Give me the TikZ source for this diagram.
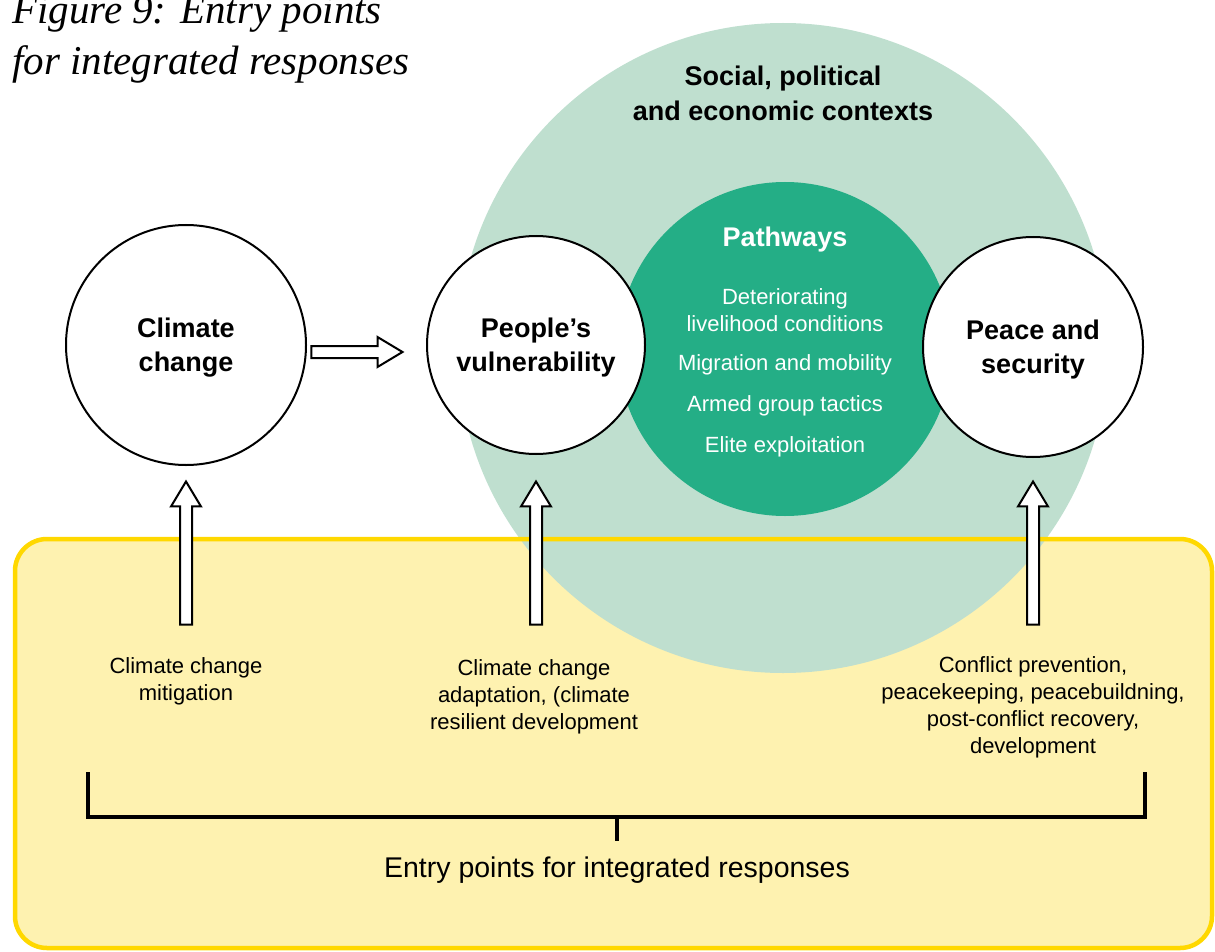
\documentclass[tikz,border=0pt]{standalone}
\usepackage{fontspec}
\setmainfont{Liberation Sans}
\newfontfamily\titlefont{Liberation Serif}
\usetikzlibrary{positioning,shapes.arrows}

\definecolor{ctxgreen}{HTML}{BFDFCF}
\definecolor{pathgreen}{HTML}{24AE86}
\definecolor{boxfill}{HTML}{FEF2B0}
\definecolor{boxline}{HTML}{FFD800}

\tikzset{
  bubble/.style={circle, draw=black, line width=2pt, fill=white, inner sep=0pt},
  bubble text/.style={align=center, inner sep=0pt,
    font=\bfseries\fontsize{27}{34}\selectfont},
  hollow arrow/.style={single arrow, draw=black, line width=2pt, fill=white,
    inner xsep=0pt, inner ysep=5pt, single arrow head extend=9pt,
    single arrow tip angle=62, single arrow head indent=0pt},
  note/.style={align=center, inner sep=0pt, font=\fontsize{22}{27}\selectfont},
  pathitem/.style={align=center, inner sep=0pt, text=white,
    font=\fontsize{22}{27}\selectfont},
  title text/.style={anchor=base west, inner sep=0pt,
    font=\titlefont\itshape\fontsize{41}{51}\selectfont}
}

\begin{document}
\begin{tikzpicture}[x=1pt,y=-1pt]
  \useasboundingbox (0,0) rectangle (1215,952);

  % entry points box (fill first, border later)
  \fill[boxfill, rounded corners=32pt] (15,539) rectangle (1212,948);

  % contexts and pathways
  \node[circle, fill=ctxgreen, minimum size=650pt, inner sep=0pt] (context) at (783,348) {};
  \node[circle, fill=pathgreen, minimum size=334pt, inner sep=0pt] (pathways) at (785,349) {};

  \draw[boxline, line width=4.5pt, rounded corners=32pt] (15,539) rectangle (1212,948);

  \node[align=center, inner sep=0pt, font=\bfseries\fontsize{27}{35}\selectfont]
    (context_label) at (783,93) {Social, political\\and economic contexts};

  \node[inner sep=0pt, text=white, font=\bfseries\fontsize{27}{34}\selectfont]
    (pathways_label) at (785,240) {Pathways};
  \node[pathitem] (livelihood) at (785,310) {Deteriorating\\livelihood conditions};
  \node[pathitem] (migration) at (785,365) {Migration and mobility};
  \node[pathitem] (armed) at (785,406) {Armed group tactics};
  \node[pathitem] (elite) at (785,447) {Elite exploitation};

  % the three circles
  \node[bubble, minimum size=240pt] (climate) at (186,345) {};
  \node[bubble, minimum size=218pt] (people) at (536,345) {};
  \node[bubble, minimum size=220pt] (peace) at (1033,347) {};
  \node[bubble text] (climate_label) at (186,348) {Climate\\change};
  \node[bubble text] (people_label) at (536,348) {People’s\\vulnerability};
  \node[bubble text] (peace_label) at (1033,350) {Peace and\\security};

  % hollow arrows
  \node[hollow arrow, minimum height=91pt] (arr_cc) at (352,352) {};
  \node[hollow arrow, minimum height=143pt, rotate=90] (arr_mitig) at (186,558) {};
  \node[hollow arrow, minimum height=143pt, rotate=90] (arr_adapt) at (536,558) {};
  \node[hollow arrow, minimum height=143pt, rotate=90] (arr_peace) at (1033,558) {};

  % entry points
  \node[note] (mitig) at (186,681) {Climate change\\mitigation};
  \node[note] (adapt) at (534,697) {Climate change\\adaptation, (climate\\resilient development};
  \node[note] (peacework) at (1033,707) {Conflict prevention,\\peacekeeping, peacebuildning,\\post-conflict recovery,\\development};

  \coordinate (br_left) at (88,772);
  \coordinate (br_right) at (1145,772);
  \coordinate (br_mid) at (617,817);
  \draw[line width=3.5pt] (br_left) |- (br_mid) -| (br_right);
  \node[inner sep=0pt, font=\fontsize{28.5}{34}\selectfont] (entry) at (617,870)
    {Entry points for integrated responses};
  \draw[line width=3.5pt] (br_mid) -- (entry.north |- 0,841);

  % title
  \node[title text] (title1) at (12,24) {Figure 9: Entry points};
  \node[title text] (title2) at (12,75) {for integrated responses};
\end{tikzpicture}
\end{document}
